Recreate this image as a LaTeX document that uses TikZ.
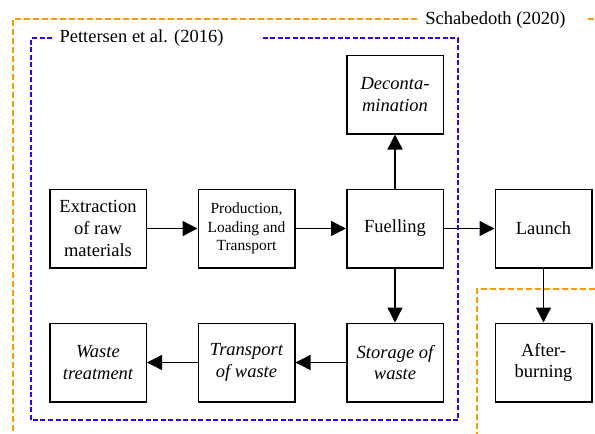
\documentclass[tikz,border=0pt]{standalone}
\usepackage{fontspec}
\setmainfont{Liberation Serif}
\usetikzlibrary{
  arrows.meta, % for the filled triangle tips
  positioning, % for relative placement of the stages
}
\definecolor{frameorange}{RGB}{255,153,0}
\definecolor{frameblue}{RGB}{51,0,255}
\tikzset{
  stage/.style={ % style for each life-cycle stage
    rectangle,draw,line width=1.5pt, % drawn as a thick rectangle
    minimum width=96.5pt, % same size for every stage
    minimum height=78.5pt,
    align=center,inner sep=2pt,
    font=\fontsize{18.5}{21.7}\selectfont,
    node distance=54pt and 50.5pt, % spacing between stages (y and x)
  },
  smalltext/.style={ % the one stage with the smaller text
    font=\fontsize{15.5}{18.7}\selectfont,
  },
  flow/.style={ % style for the connections
    -{Triangle[length=15pt,width=15pt]}, % filled triangle tip
    line width=1.4pt,
  },
  outerscope/.style={ % the wider system boundary
    draw=frameorange,line width=1.3pt,dash pattern=on 6pt off 3pt,
  },
  innerscope/.style={ % the narrower system boundary
    draw=frameblue,line width=1.3pt,dash pattern=on 5pt off 2.5pt,
  },
  source/.style={ % labels of the boundaries
    font=\fontsize{18.5}{21.7}\selectfont,inner sep=0pt,
  },
}
\begin{document}
\begin{tikzpicture}[x=1pt,y=-1pt]
	\useasboundingbox (0,0) rectangle (595,434);
	
	\node[stage] (extr) at (98,228.5) {Extraction\\of raw\\materials};
	
	\node[stage,smalltext] (prod) [right=of extr] {Production,\\Loading and\\Transport};
	
	\node[stage] (fuel) [right=of prod] {Fuelling};
	
	\node[stage] (launch) [right=of fuel] {Launch};
	
	\node[stage] (decon) [above=of fuel] {\itshape Deconta-\\\itshape mination};
	
	\node[stage] (store) [below=of fuel] {\itshape Storage of\\\itshape waste};
	
	\node[stage] (transp) [left=of store] {\itshape Transport\\\itshape of waste};
	
	\node[stage] (waste) [left=of transp] {\itshape Waste\\\itshape treatment};
	
	\node[stage] (after) [below=of launch] {After-\\burning};
	
	\draw[flow] (extr) -- (prod);
	\draw[flow] (prod) -- (fuel);
	\draw[flow] (fuel) -- (decon);
	\draw[flow] (fuel) -- (launch);
	\draw[flow] (fuel) -- (store);
	\draw[flow] (store) -- (transp);
	\draw[flow] (transp) -- (waste);
	\draw[flow] (launch) -- (after);
	
	% system boundaries
	\node[source] (schab) at (495.5,20) {Schabedoth (2020)};
	\node[source] (pett) at (141.5,38) {Pettersen et al. (2016)};
	
	\draw[outerscope] (417,19) -- (13,19) -- (13,434);
	\draw[outerscope] (588,19) -- (595,19);
	\draw[outerscope] (595,289) -- (477,289) -- (477,434);
	\draw[innerscope] (52,38) -- (31,38) -- (31,420) -- (458,420) -- (458,38) -- (260,38);
\end{tikzpicture}
\end{document}
